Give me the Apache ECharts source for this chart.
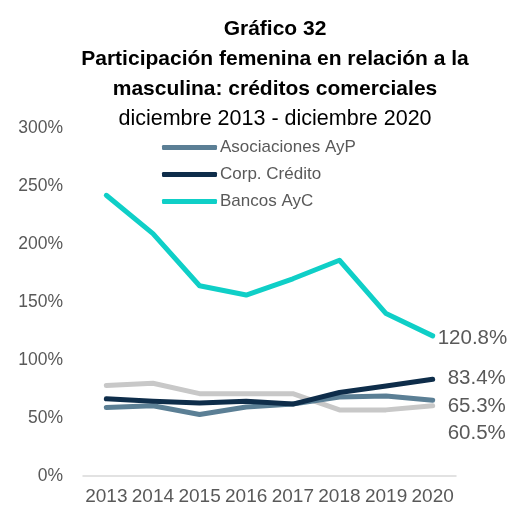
<!DOCTYPE html>
<html>
<head>
<meta charset="utf-8">
<script src="https://cdn.jsdelivr.net/npm/echarts@6/dist/echarts.min.js"></script>
<style>
  html, body { margin: 0; padding: 0; background: #fff; }
  #chart { width: 511px; height: 511px; }
</style>
</head>
<body>
<div id="chart"></div>
<script>
    const years = ['2013', '2014', '2015', '2016', '2017', '2018', '2019', '2020'];
    const asociaciones = [59, 60.5, 53, 59.5, 62, 68, 69, 65.3];
    const corpCredito = [66.5, 64.5, 63, 64.5, 62, 72, 77.5, 83.4];
    const bancos = [242, 209, 164, 156, 170, 186, 140, 120.8];
    const otros = [78, 80, 71, 71, 71, 57, 57, 60.5];
    const yTicks = { min: 0, max: 300, step: 50 };

    let dom = document.getElementById('chart');
    let chart = echarts.init(dom);
    const textColor = '#595959';
    const font = 'Liberation Sans';

    function endLabel(offset) {
        return {
            show: true,
            formatter: function (p) { return p.value.toFixed(1) + '%'; },
            color: textColor,
            fontFamily: font,
            fontSize: 20.5,
            distance: 5,
            offset: offset
        };
    }

    function line(name, data, color, offset) {
        return {
            name: name,
            type: 'line',
            data: data,
            symbol: 'none',
            silent: true,
            lineStyle: { color: color, width: 5, cap: 'round', join: 'round' },
            itemStyle: { color: color },
            endLabel: endLabel(offset),
            z: 2
        };
    }

    let option = {
        animation: false,
        backgroundColor: '#fff',
        title: {
            text: 'Gráfico 32\nParticipación femenina en relación a la\nmasculina: créditos comerciales',
            subtext: 'diciembre 2013 - diciembre 2020',
            left: 270,
            textAlign: 'center',
            top: 9,
            itemGap: 0,
            textStyle: { fontFamily: font, fontWeight: 'bold', fontSize: 21, lineHeight: 30, color: '#000' },
            subtextStyle: { fontFamily: font, fontSize: 21.5, lineHeight: 30, color: '#000' }
        },
        legend: {
            orient: 'vertical',
            left: 162,
            top: 139,
            data: ['Asociaciones AyP', 'Corp. Crédito', 'Bancos AyC'],
            icon: 'roundRect',
            itemWidth: 55,
            itemHeight: 5,
            itemGap: 10,
            padding: 0,
            textStyle: { color: textColor, fontFamily: font, fontSize: 17, padding: [0, 0, 0, -2] },
            selectedMode: false
        },
        grid: { left: 83, right: 55, top: 128, bottom: 35 },
        xAxis: {
            type: 'category',
            data: years,
            axisLine: { lineStyle: { color: '#d9d9d9', width: 1.5 } },
            axisTick: { show: false },
            axisLabel: { color: textColor, fontFamily: font, fontSize: 19, margin: 11, interval: 0 }
        },
        yAxis: {
            type: 'value',
            min: yTicks.min,
            max: yTicks.max,
            interval: yTicks.step,
            axisLine: { show: false },
            axisTick: { show: false },
            splitLine: { show: false },
            axisLabel: { color: textColor, fontFamily: font, fontSize: 17.5, margin: 20, formatter: '{value}%' }
        },
        series: [
            line('Otros', otros, '#c8c8c8', [10, 28]),
            line('Asociaciones AyP', asociaciones, '#5b7f95', [10, 6]),
            line('Corp. Crédito', corpCredito, '#0e2d4a', [10, -1]),
            line('Bancos AyC', bancos, '#0fcfc7', [0, 2])
        ]
    };
    chart.setOption(option);
    window.addEventListener('resize', function () {
        chart.resize();
    });
</script>
</body>
</html>
